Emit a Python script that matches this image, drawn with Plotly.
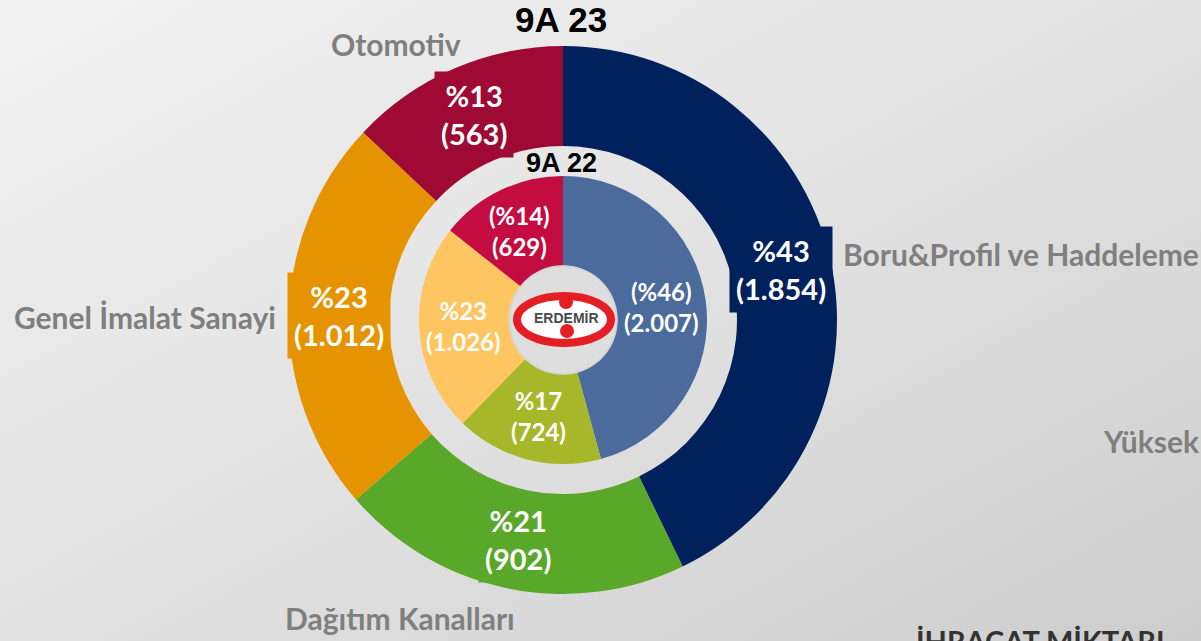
import plotly.graph_objects as go
import base64, math

# ---- data ----
categories = ["Boru&Profil ve Haddeleme", "Dağıtım Kanalları", "Genel İmalat Sanayi", "Otomotiv"]
values_9a23 = [1854, 902, 1012, 563]
pct_9a23 = [43, 21, 23, 13]
values_9a22 = [2007, 724, 1026, 629]
pct_9a22 = [46, 17, 23, 14]
labels_9a23 = ["%43<br>(1.854)", "%21<br>(902)", "%23<br>(1.012)", "%13<br>(563)"]
labels_9a22 = ["(%46)<br>(2.007)", "%17<br>(724)", "%23<br>(1.026)", "(%14)<br>(629)"]

outer_colors = ["#00215c", "#59a829", "#e59400", "#9e0a33"]
inner_colors = ["#4a6b9b", "#a7b72a", "#ffc561", "#c30d40"]

W, H = 1201, 641
def px(x): return x / W
def py(y): return 1 - y / H

cx, cy = 563, 320
R_out, R_in = 274, 144
HOLE_OUT, HOLE_IN = 0.635, 0.38

fig = go.Figure()
fig.add_trace(go.Pie(
    labels=categories, values=values_9a23, textinfo="none",
    hole=HOLE_OUT, sort=False, direction="clockwise", rotation=0,
    marker=dict(colors=outer_colors, line=dict(width=0)),
    domain=dict(x=[px(cx - R_out), px(cx + R_out)], y=[py(cy + R_out), py(cy - R_out)]),
    showlegend=False, hoverinfo="label+value",
))
fig.add_trace(go.Pie(
    labels=categories, values=values_9a22, textinfo="none",
    hole=HOLE_IN, sort=False, direction="clockwise", rotation=0,
    marker=dict(colors=inner_colors, line=dict(width=0)),
    domain=dict(x=[px(cx - R_in), px(cx + R_in)], y=[py(cy + R_in), py(cy - R_in)]),
    showlegend=False, hoverinfo="label+value",
))

def slice_label_positions(values, r_outer, hole):
    """Mid-angle / mid-ring point of each slice (clockwise from 12 o'clock)."""
    total = sum(values)
    r = r_outer * (1 + hole) / 2
    out, cum = [], 0
    for v in values:
        a = 2 * math.pi * (cum + v / 2) / total
        out.append((cx + r * math.sin(a), cy - r * math.cos(a)))
        cum += v
    return out

annotations = []
txt_font_out = dict(family="Lato, Open Sans, sans-serif", size=29, color="white", weight="bold")
txt_font_in = dict(family="Lato, Open Sans, sans-serif", size=24, color="white", weight="bold")
for (x, y), t, c in zip(slice_label_positions(values_9a23, R_out, HOLE_OUT), labels_9a23, outer_colors):
    annotations.append(dict(x=px(x), y=py(y), text=t, font=txt_font_out, bgcolor=c, borderpad=6))
for (x, y), t in zip(slice_label_positions(values_9a22, R_in, HOLE_IN), labels_9a22):
    annotations.append(dict(x=px(x), y=py(y), text=t, font=txt_font_in))

# background gradient
svg = f'''<svg xmlns="http://www.w3.org/2000/svg" width="{W}" height="{H}">
<defs><linearGradient id="g" x1="0" y1="0" x2="1" y2="1">
<stop offset="0" stop-color="#f2f2f2"/><stop offset="0.5" stop-color="#e2e2e2"/>
<stop offset="1" stop-color="#cdcdcd"/></linearGradient></defs>
<rect width="{W}" height="{H}" fill="url(#g)"/></svg>'''
bg = "data:image/svg+xml;base64," + base64.b64encode(svg.encode()).decode()

gray = "#7f7f7f"
lab_font = dict(family="Lato, Open Sans, sans-serif", size=30, color=gray, weight="bold")
annotations += [
    dict(x=px(561), y=py(20), text="9A 23", font=dict(family="Arial, Liberation Sans", size=35, color="black", weight="bold")),
    dict(x=px(561), y=py(163), text="9A 22", font=dict(family="Arial, Liberation Sans", size=27, color="black", weight="bold")),
    dict(x=px(396), y=py(44), text=categories[3], font=lab_font),
    dict(x=px(1021), y=py(254), text=categories[0], font=lab_font),
    dict(x=px(145), y=py(317), text=categories[2], font=lab_font),
    dict(x=px(400), y=py(618), text=categories[1], font=lab_font),
    dict(x=px(1151), y=py(441), text="Yüksek", font=lab_font),
    dict(x=px(1040), y=py(640), text="İHRACAT MİKTARI", font=dict(family="Lato, Open Sans, sans-serif", size=29, color="#333333", weight="bold")),
    dict(x=px(566), y=py(318), text="ERDEMİR", font=dict(family="Liberation Sans Narrow, Arial", size=14, color="#4a4a4a", weight="bold")),
]
for a in annotations:
    a.update(xref="paper", yref="paper", showarrow=False, xanchor="center", yanchor="middle")

shapes = [
    dict(type="circle", xref="paper", yref="paper",
         x0=px(cx - 54), x1=px(cx + 54), y0=py(cy + 54), y1=py(cy - 54),
         fillcolor="#dedede", line=dict(color="#cfcfcf", width=1)),
    dict(type="circle", xref="paper", yref="paper",
         x0=px(517), x1=px(611), y0=py(343), y1=py(296),
         fillcolor="white", line=dict(color="#e31e24", width=8)),
    dict(type="circle", xref="paper", yref="paper",
         x0=px(559), x1=px(573), y0=py(309), y1=py(295),
         fillcolor="#e31e24", line=dict(width=0)),
    dict(type="circle", xref="paper", yref="paper",
         x0=px(560), x1=px(574), y0=py(338), y1=py(324),
         fillcolor="#e31e24", line=dict(width=0)),
]

fig.update_layout(
    width=W, height=H, margin=dict(l=0, r=0, t=0, b=0),
    paper_bgcolor="#e0e0e0", plot_bgcolor="rgba(0,0,0,0)",
    images=[dict(source=bg, xref="paper", yref="paper", x=0, y=1, sizex=1, sizey=1,
                 sizing="stretch", layer="below", xanchor="left", yanchor="top")],
    annotations=annotations, shapes=shapes,
)
fig.write_html("out.html", config={"displayModeBar": False},
               post_script="document.body.style.margin='0';document.body.style.overflow='hidden';")
